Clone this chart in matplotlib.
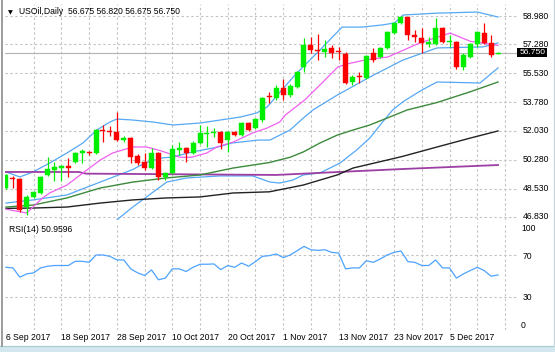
import matplotlib
matplotlib.use('Agg')
import matplotlib.pyplot as plt
import matplotlib.transforms as mtransforms
from matplotlib.patches import Rectangle
from matplotlib.lines import Line2D

# ---------------- data ----------------
opens = [48.58, 49.18, 49.13, 47.43, 48.04, 48.28, 49.37, 49.67, 49.80, 49.90,
         50.15, 50.72, 50.74, 50.70, 52.07, 52.05, 51.97, 51.48, 51.60, 50.52,
         50.15, 49.80, 50.70, 49.25, 49.49, 50.90, 51.00, 50.70, 51.30, 51.86,
         51.88, 51.97, 51.48, 51.97, 51.80, 52.50, 52.20, 52.69, 54.17, 54.02,
         54.63, 54.20, 54.70, 55.90, 57.23, 56.92, 56.80, 57.05, 56.86, 56.68,
         55.00, 55.35, 55.23, 56.74, 56.50, 57.05, 57.95, 58.56, 58.92, 57.82,
         57.65, 57.30, 57.29, 58.25, 57.38, 57.41, 55.90, 56.50, 57.29, 57.95,
         57.35, 56.675]
highs = [49.45, 49.30, 49.20, 48.15, 48.40, 49.30, 50.45, 50.15, 49.95, 50.40,
         50.75, 50.95, 50.80, 52.15, 52.40, 52.30, 53.15, 51.70, 51.65, 50.65,
         50.70, 51.00, 50.75, 49.55, 51.20, 51.36, 51.05, 51.40, 52.40, 52.30,
         52.20, 52.00, 52.05, 52.05, 52.60, 52.55, 52.80, 54.10, 54.38, 54.80,
         55.17, 54.85, 55.65, 57.65, 57.70, 57.90, 57.53, 57.23, 57.10, 56.80,
         55.40, 55.60, 56.60, 57.05, 57.10, 58.05, 58.60, 59.00, 58.95, 58.13,
         58.25, 57.70, 58.85, 58.30, 57.83, 57.45, 56.74, 57.35, 58.05, 58.56,
         57.83, 56.82]
lows = [48.52, 48.58, 47.10, 46.95, 47.95, 48.20, 49.30, 49.00, 49.00, 49.25,
        50.10, 50.10, 50.60, 50.65, 51.36, 51.70, 51.40, 51.35, 50.10, 50.00,
        49.65, 49.75, 49.06, 49.06, 49.45, 50.58, 50.15, 50.65, 51.25, 51.06,
        51.66, 50.95, 50.78, 51.70, 51.75, 52.05, 52.15, 52.60, 53.72, 53.90,
        53.90, 54.10, 54.65, 55.60, 56.74, 56.32, 56.50, 56.44, 56.32, 54.85,
        54.80, 54.90, 55.20, 56.20, 56.45, 57.00, 57.90, 58.50, 57.50, 57.40,
        56.74, 57.10, 57.20, 57.35, 57.10, 55.75, 55.70, 56.45, 57.10, 57.30,
        56.50, 56.675]
closes = [49.37, 49.10, 47.25, 48.04, 48.34, 49.25, 49.73, 49.85, 49.90, 49.82,
          50.70, 50.78, 50.68, 52.09, 52.00, 51.98, 51.48, 51.58, 50.45, 50.10,
          49.79, 50.70, 49.25, 49.49, 50.94, 51.00, 50.70, 51.30, 51.90, 51.92,
          51.94, 51.30, 51.97, 51.78, 52.50, 52.10, 52.75, 54.02, 54.10, 54.63,
          54.20, 54.75, 55.60, 57.23, 56.93, 56.86, 56.98, 56.74, 56.80, 54.93,
          55.30, 55.28, 56.56, 56.32, 57.05, 58.01, 58.56, 58.92, 57.83, 57.74,
          57.35, 57.40, 58.25, 57.41, 57.44, 55.90, 56.62, 57.29, 58.01, 57.35,
          56.62, 56.75]

# indicator lines (bar index, price)
upper_x = [0, 2, 3.9, 6.3, 8.8, 11.1, 13.1, 15, 16, 18.3, 21.2, 24.1, 28, 30.9,
           33.8, 36.2, 37.7, 38.8, 41.7, 45.6, 48.5, 51.4, 54.3, 56.1, 57.3, 62, 68, 71]
upper_y = [49.55, 49.25, 49.55, 50.09, 50.70, 51.30, 52.09, 52.57, 52.75, 52.69,
           52.57, 52.39, 52.51, 52.69, 52.87, 53.12, 53.48, 54.02, 55.41, 57.05,
           58.31, 58.31, 58.44, 58.56, 59.04, 59.15, 59.22, 58.92]

mid_x = [0, 3.9, 8.8, 13.6, 18.3, 20.1, 22.5, 24, 26.8, 30.6, 32.6, 36.4, 38.1,
         41, 42.9, 44.3, 47.8, 52.5, 57.3, 62.2, 68.8, 71]
mid_y = [47.67, 47.86, 48.16, 48.94, 49.70, 50.10, 50.40, 50.45, 50.75, 51.06,
         51.30, 51.48, 51.48, 52.09, 52.81, 53.30, 54.20, 55.29, 56.32, 57.05,
         57.11, 57.35]

lower_x = [16, 18.3, 23.2, 26.1, 30.9, 35.6, 38.1, 39.5, 41.4, 42.9, 45.3, 48.2,
           50.6, 52.5, 54.4, 55.8, 57.3, 60, 62.2, 68.4, 71]
lower_y = [46.65, 47.43, 48.94, 49.19, 49.31, 49.31, 48.94, 48.88, 49.06, 49.37,
           49.49, 50.09, 50.88, 51.60, 52.60, 53.30, 53.80, 54.50, 54.99, 54.93, 55.84]

sma10_x = [0, 3, 5.2, 6.3, 8.8, 11.1, 13.6, 15.4, 18.3, 20.3, 22.2, 25.1, 26.8,
           29, 30.4, 32.8, 35.6, 37.7, 39.5, 40.3, 43.1, 45.6, 47.9, 49.2, 51.8,
           55.1, 59.7, 64.1, 67, 71]
sma10_y = [47.30, 47.07, 47.95, 48.28, 48.76, 49.49, 50.27, 50.70, 51.06, 51.06,
           50.85, 50.44, 50.44, 50.70, 51.06, 51.36, 51.91, 52.21, 52.57, 52.99,
           53.90, 54.93, 55.90, 56.08, 56.32, 56.50, 57.35, 57.95, 57.45, 57.20]

ma_green_x = [0, 3.9, 8.8, 13.6, 18.3, 23.2, 28, 32.8, 38, 41, 42.9, 45.3, 47.8,
              50.1, 52.5, 55, 57.9, 62.2, 67, 71]
ma_green_y = [47.43, 47.55, 47.98, 48.58, 48.94, 49.19, 49.37, 49.79, 50.12, 50.44,
              50.76, 51.30, 51.78, 52.09, 52.39, 52.81, 53.30, 53.75, 54.40, 54.99]

ma_black_x = [0, 3.9, 8.8, 13.6, 18.3, 23.2, 28, 32.8, 38, 42.9, 47.8, 50.1, 55,
              57.3, 62.2, 67, 71]
ma_black_y = [47.35, 47.37, 47.43, 47.67, 47.86, 47.98, 48.04, 48.28, 48.35, 48.76,
              49.37, 49.79, 50.27, 50.50, 51.06, 51.60, 52.03]

ma_purple_x = [0, 10.5, 11.5, 39, 48, 57.3, 71]
ma_purple_y = [49.55, 49.55, 49.45, 49.37, 49.55, 49.73, 49.97]

rsi = [58.3, 57.7, 48.9, 52, 53, 57.7, 59.3, 60, 60, 60, 64, 64, 63, 70, 70, 68.7,
       65.3, 65.3, 56.8, 53, 50.5, 55.8, 46.4, 48, 56.8, 56.8, 54.3, 58.3, 61.2,
       61.2, 61.5, 56.1, 60, 58.3, 62.4, 59.3, 63.7, 68.7, 69.4, 71, 67.5, 70, 74,
       78.2, 75, 74.4, 75, 72.5, 71.9, 56.8, 57.7, 57.7, 64.6, 63, 66.2, 70, 72.5,
       73.8, 63.7, 63, 60, 60, 65.3, 57.7, 57.7, 48, 52, 55.2, 58.3, 55.2, 49.8, 51]

price_ticks = [58.98, 57.28, 55.53, 53.78, 52.03, 50.28, 48.53, 46.83]
price_labels = ['58.980', '57.280', '55.530', '53.780', '52.030', '50.280', '48.530', '46.830']
date_idx = [0, 8, 16, 24, 32, 40, 48, 56, 64]
date_labels = ['6 Sep 2017', '18 Sep 2017', '28 Sep 2017', '10 Oct 2017', '20 Oct 2017',
               '1 Nov 2017', '13 Nov 2017', '23 Nov 2017', '5 Dec 2017']
last_price = 56.75
title_text = 'USOil,Daily  56.675 56.820 56.675 56.750'
rsi_title = 'RSI(14) 50.9596'

# ---------------- drawing ----------------
plt.rcParams['font.family'] = ['Liberation Sans', 'DejaVu Sans']
W, H = 555, 352
fig = plt.figure(figsize=(W / 100, H / 100), dpi=100)
fig.patch.set_facecolor('white')


def rect(x0, y0, x1, y1):
    return [x0 / W, 1 - y1 / H, (x1 - x0) / W, (y1 - y0) / H]


ax = fig.add_axes(rect(5, 4, 517, 220))
axr = fig.add_axes(rect(5, 222, 517, 330), sharex=ax)

grid_kw = dict(color='#C4C4C4', lw=0.8, ls=(0, (2.2, 2.2)), zorder=0)
for a in (ax, axr):
    for s in a.spines.values():
        s.set_visible(False)
    a.set_facecolor('white')
    for b in range(4, 73, 4):
        a.axvline(b, **grid_kw)

ax.set_xlim(-0.14, 73.74)
ax.set_ylim(46.646, 59.706)
for v in price_ticks:
    ax.axhline(v, **grid_kw)

# current price line
ax.axhline(last_price, color='#B4B4B4', lw=0.8, zorder=1)

# indicator lines
blue = '#55A8F5'
ax.plot(upper_x, upper_y, color=blue, lw=0.9, zorder=2)
ax.plot(mid_x, mid_y, color=blue, lw=0.9, zorder=2)
ax.plot(lower_x, lower_y, color=blue, lw=0.9, zorder=2)
ax.plot(ma_purple_x, ma_purple_y, color='#9B3FA3', lw=1.3, zorder=2)
ax.plot(ma_black_x, ma_black_y, color='#222222', lw=1.0, zorder=2)
ax.plot(ma_green_x, ma_green_y, color='#3C8A3C', lw=1.0, zorder=2)
ax.plot(sma10_x, sma10_y, color='#F060F0', lw=0.9, zorder=2)

# candles
idx = list(range(len(opens)))
up_col, dn_col = '#00EE00', '#FF0000'
cols = [up_col if c >= o else dn_col for o, c in zip(opens, closes)]
ax.vlines(idx, lows, highs, colors=cols, lw=0.9, zorder=3)
bottoms = [min(o, c) for o, c in zip(opens, closes)]
heights = [max(abs(c - o), 0.07) for o, c in zip(opens, closes)]
ax.bar(idx, heights, bottom=bottoms, width=0.72, color=cols, edgecolor=cols,
       linewidth=0.3, zorder=4)

# price axis
ax.yaxis.tick_right()
ax.set_yticks(price_ticks)
ax.set_yticklabels(price_labels)
ax.tick_params(axis='y', length=0, pad=4, labelsize=6.2, colors='black')
ax.tick_params(axis='x', bottom=False, labelbottom=False)
for lab in ax.get_yticklabels():
    lab.set_va('center')

# current-price box on the price scale (black box, white text)
y_dots = ax.transData.transform((0, last_price))[1]
fig.add_artist(Rectangle((517 / W, (y_dots - 4.6) / H), 30 / W, 9.2 / H,
                         transform=fig.transFigure, facecolor='black',
                         edgecolor='none', zorder=5))
fig.text(519.5 / W, y_dots / H, '56.750', ha='left', va='center', color='white',
         fontsize=6.1, zorder=6)

# title
fig.text(8 / W, 1 - 12.5 / H, '\u25BC', fontsize=4.5, va='center', ha='left',
         family=['DejaVu Sans'])
fig.text(19 / W, 1 - 12 / H, title_text, fontsize=6.2, va='center', ha='left')

# RSI window
axr.set_ylim(-1.43, 101.43)
for v in (70, 30):
    axr.axhline(v, **grid_kw)
axr.plot(idx, rsi, color='#4DA3FF', lw=0.9, zorder=3)
axr.yaxis.tick_right()
axr.set_yticks([70, 30])
axr.set_yticklabels(['70', '30'])
axr.tick_params(axis='y', length=0, pad=4, labelsize=6.2)
rb = mtransforms.blended_transform_factory(axr.transAxes, axr.transData)
axr.text(1.0 + 4 / 512, 99.5, '100', transform=rb, ha='left', va='top', fontsize=6.2,
         clip_on=False)
axr.text(1.0 + 4 / 512, -1.0, '0', transform=rb, ha='left', va='bottom', fontsize=6.2,
         clip_on=False)
fig.text(9 / W, 1 - 229.5 / H, rsi_title, fontsize=6.2, va='center', ha='left')

axr.set_xticks(date_idx)
axr.set_xticklabels(date_labels)
for lab in axr.get_xticklabels():
    lab.set_ha('left')
axr.tick_params(axis='x', length=0, pad=2.5, labelsize=6.2)
axr.set_xlim(-0.14, 73.74)

# window frame decorations
fig.add_artist(Rectangle((0, 0), 1, 6 / H, transform=fig.transFigure,
                         facecolor='#D3E8EE', edgecolor='none'))
fig.add_artist(Line2D([0, 1], [6 / H, 6 / H], transform=fig.transFigure,
                      color='#A9C9D3', lw=0.8))
fig.add_artist(Line2D([2 / W, 2 / W], [6 / H, 1], transform=fig.transFigure,
                      color='#9C9C9C', lw=1.4))
fig.add_artist(Line2D([553.5 / W, 553.5 / W], [6 / H, 1], transform=fig.transFigure,
                      color='#C8D8DE', lw=1.0))

fig.savefig('out.png', dpi=100, facecolor='white')
